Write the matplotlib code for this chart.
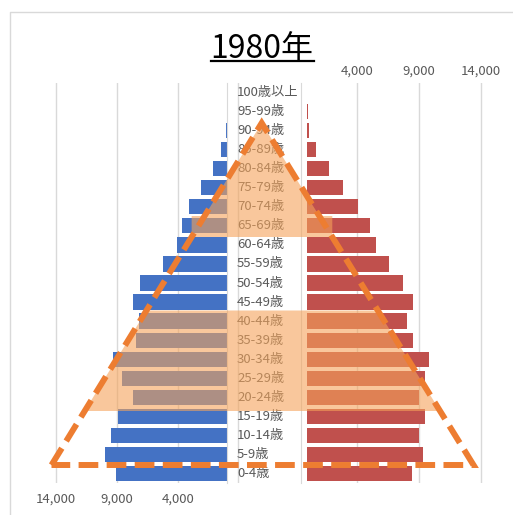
import matplotlib
matplotlib.use("Agg")
import matplotlib.pyplot as plt
from matplotlib.patches import Polygon
from matplotlib.lines import Line2D

plt.rcParams['font.family'] = ['Noto Sans CJK JP', 'DejaVu Sans']

# ---- data (bottom to top) ----
age_labels = ['0-4歳', '5-9歳', '10-14歳', '15-19歳', '20-24歳', '25-29歳', '30-34歳',
              '35-39歳', '40-44歳', '45-49歳', '50-54歳', '55-59歳', '60-64歳', '65-69歳',
              '70-74歳', '75-79歳', '80-84歳', '85-89歳', '90-94歳', '95-99歳', '100歳以上']
male = [9090, 9990, 9530, 8950, 7720, 8620, 9310, 7450, 7180, 7720, 7130, 5270, 4070, 3660,
        3090, 2130, 1120, 460, 60, 10, 0]
female = [8430, 9340, 9020, 9480, 8970, 9480, 9780, 8540, 8010, 8540, 7730, 6610, 5520, 5060,
          4100, 2920, 1790, 720, 180, 50, 0]
left_ticks = [14000, 9000, 4000]
left_ticklabels = ['14,000', '9,000', '4,000']
right_ticks = [4000, 9000, 14000]
right_ticklabels = ['4,000', '9,000', '14,000']
title = '1980年'

W, H = 513, 515
fig = plt.figure(figsize=(W / 100, H / 100), dpi=100)

def fx(px):
    return px / W

def fy(py):
    return 1 - py / H

top, bot = 83, 483
grid_c = '#D9D9D9'
txt_c = '#595959'
y = list(range(len(age_labels)))

# left (male)
ax_l = fig.add_axes([fx(10), fy(bot), (227 - 10) / W, (bot - top) / H])
ax_l.barh(y, male, height=0.8, color='#4472C4', zorder=2)
ax_l.set_xlim(217 / 12.21 * 1000, 0)
ax_l.set_ylim(-0.5, 20.5)
ax_l.set_xticks(left_ticks)
ax_l.set_xticklabels(left_ticklabels)
ax_l.set_yticks([])
ax_l.xaxis.grid(True, color=grid_c, lw=1, zorder=0)
ax_l.tick_params(axis='x', length=0, pad=7, labelsize=9.5, labelcolor=txt_c)
for s in ['top', 'left', 'bottom']:
    ax_l.spines[s].set_visible(False)
ax_l.spines['right'].set_color(grid_c)

# right (female)
ax_r = fig.add_axes([fx(301), fy(bot), (500 - 301) / W, (bot - top) / H])
ax_r.barh(y, female, height=0.8, color='#C0504D', zorder=2)
ax_r.set_xlim(-6 / 12.45 * 1000, (500 - 307) / 12.45 * 1000)
ax_r.set_ylim(-0.5, 20.5)
ax_r.xaxis.tick_top()
ax_r.set_xticks(right_ticks)
ax_r.set_xticklabels(right_ticklabels)
ax_r.set_yticks([])
ax_r.xaxis.grid(True, color=grid_c, lw=1, zorder=0)
ax_r.tick_params(axis='x', length=0, pad=4, labelsize=9.5, labelcolor=txt_c)
for s in ['top', 'right', 'bottom']:
    ax_r.spines[s].set_visible(False)
ax_r.spines['left'].set_color(grid_c)

# center labels
ax_c = fig.add_axes([fx(227), fy(bot), (301 - 227) / W, (bot - top) / H])
ax_c.set_xlim(227, 301)
ax_c.set_ylim(-0.5, 20.5)
ax_c.axis('off')
ax_c.axvline(238, color=grid_c, lw=1)
for yi, lab in zip(y, age_labels):
    ax_c.text(237, yi, lab, ha='left', va='center', fontsize=9.5, color=txt_c)

# title
t = fig.text(fx(262), fy(58), title, ha='center', va='baseline', fontsize=23, color='black')

# overlay (pixel coordinates, y down)
ax_o = fig.add_axes([0, 0, 1, 1], zorder=10)
ax_o.set_xlim(0, W)
ax_o.set_ylim(H, 0)
ax_o.axis('off')
ax_o.patch.set_alpha(0)

apex = (261.7, 123.0)
lc = (51.5, 465.0)
rc = (473.5, 465.0)

def xl(py):
    return apex[0] + (py - apex[1]) * (lc[0] - apex[0]) / (lc[1] - apex[1])

def xr(py):
    return apex[0] + (py - apex[1]) * (rc[0] - apex[0]) / (rc[1] - apex[1])

fill_c = '#F5A35A'
y1, y2 = 216.0, 237.0
upper = [apex, (xl(y1), y1), (xl(y2), y1), (xl(y2), y2), (xr(y2), y2), (xr(y2), y1), (xr(y1), y1)]
ax_o.add_patch(Polygon(upper, closed=True, facecolor=fill_c, edgecolor='none', alpha=0.6))
y3, y4 = 310.5, 411.0
lower = [(xl(y3), y3), (xr(y3), y3), (xr(y4), y4), (xl(y4), y4)]
ax_o.add_patch(Polygon(lower, closed=True, facecolor=fill_c, edgecolor='none', alpha=0.6))

tri = Polygon([lc, apex, rc], closed=True, fill=False, edgecolor='#ED7D31', lw=4.3,
              linestyle=(0, (3.3, 1.4)), joinstyle='miter', capstyle='butt')
ax_o.add_patch(tri)

# frame lines
ax_o.add_line(Line2D([9.5, 9.5, W], [H, 12, 12], color=grid_c, lw=1))

# underline for title
fig.canvas.draw()
bb = t.get_window_extent()
ax_o.add_line(Line2D([bb.x0, bb.x1], [61, 61], color='black', lw=1.6))

fig.savefig('out.png', dpi=100)
